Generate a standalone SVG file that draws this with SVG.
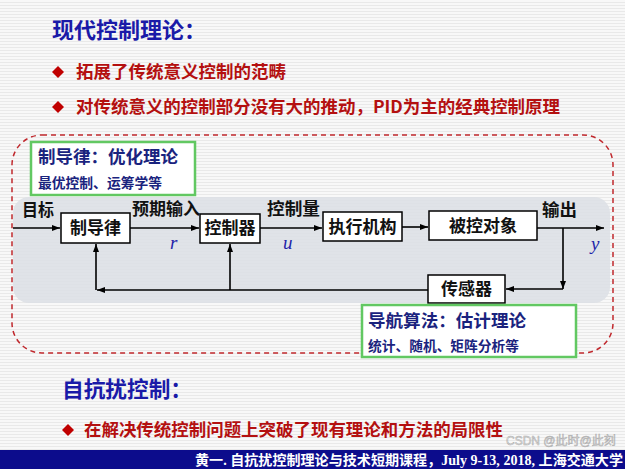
<svg xmlns="http://www.w3.org/2000/svg" width="625" height="469" viewBox="0 0 625 469">
  <defs>
    <pattern id="stripes" x="0" y="0" width="8" height="3" patternUnits="userSpaceOnUse">
      <rect width="8" height="3" fill="#f8f8f8"/>
      <rect y="2" width="8" height="1" fill="#e9e9e9"/>
    </pattern>
    <marker id="arr" markerWidth="8" markerHeight="6" refX="8" refY="3" orient="auto" markerUnits="userSpaceOnUse">
      <path d="M0,0 L8,3 L0,6 z" fill="#000"/>
    </marker>
  </defs>
  <style>
    .cjk { font-family: "Noto Sans CJK SC", "Noto Sans", sans-serif; font-weight: bold; }
    .title { font-size: 22px; fill: #1a1aa8; }
    .bullet { font-size: 17.5px; fill: #b41010; }
    .dia { fill: #c00000; }
    .box { fill: #fff; stroke: #000; stroke-width: 1.5; }
    .btxt { font-size: 17px; fill: #111; text-anchor: middle; }
    .lbl { font-size: 17px; fill: #111; }
    .green { fill: #fff; stroke: #62c862; stroke-width: 2.5; }
    .gtxt1 { font-size: 17.5px; fill: #1a237e; }
    .gtxt2 { font-size: 13.7px; fill: #1a237e; }
    .var { font-family: "Liberation Serif", "DejaVu Serif", serif; font-style: italic; font-size: 19px; fill: #2323a8; }
    .conn path { fill: none; stroke: #000; stroke-width: 1.6; }
  </style>

  <!-- background -->
  <rect width="625" height="469" fill="url(#stripes)"/>

  <!-- headings and bullets -->
  <g id="heading1">
    <text class="cjk title" x="52" y="38" textLength="154" lengthAdjust="spacingAndGlyphs">现代控制理论：</text>
  </g>
  <g id="bullet1">
    <polygon class="dia" points="58,66 64,72 58,78 52,72"/>
    <text class="cjk bullet" x="76" y="78" textLength="210" lengthAdjust="spacingAndGlyphs">拓展了传统意义控制的范畴</text>
  </g>
  <g id="bullet2">
    <polygon class="dia" points="58,101 64,107 58,113 52,107"/>
    <text class="cjk bullet" x="76" y="113" textLength="484" lengthAdjust="spacingAndGlyphs">对传统意义的控制部分没有大的推动，PID为主的经典控制原理</text>
  </g>

  <!-- dashed frame and gray band -->
  <g id="frame">
    <rect x="12" y="135" width="601" height="218" rx="30" fill="none" stroke="#c0282d" stroke-width="1.5" stroke-dasharray="5,4"/>
    <rect x="13" y="197" width="597" height="106" rx="16" fill="#dde0e6" opacity="0.9"/>
  </g>

  <!-- green annotation box 1 -->
  <g id="note-guidance">
    <rect class="green" x="31" y="142" width="164" height="53"/>
    <text class="cjk gtxt1" x="38" y="163" textLength="140" lengthAdjust="spacingAndGlyphs">制导律：优化理论</text>
    <text class="cjk gtxt2" x="38" y="188" textLength="124" lengthAdjust="spacingAndGlyphs">最优控制、运筹学等</text>
  </g>

  <!-- connectors -->
  <g id="connectors" class="conn">
    <path d="M13 228 H60" marker-end="url(#arr)"/>
    <path d="M130 228 H199" marker-end="url(#arr)"/>
    <path d="M260 228 H322" marker-end="url(#arr)"/>
    <path d="M402 227 H428" marker-end="url(#arr)"/>
    <path d="M537 228 H604" marker-end="url(#arr)"/>
    <path d="M563 228 V289" marker-end="url(#arr)"/>
    <path d="M563 289 H506" marker-end="url(#arr)"/>
    <path d="M428 290 H97" marker-end="url(#arr)"/>
    <path d="M96 290 V244" marker-end="url(#arr)"/>
    <path d="M230 290 V244" marker-end="url(#arr)"/>
  </g>

  <!-- connector labels -->
  <g id="labels">
    <text class="cjk lbl" x="22" y="216" font-size="16" textLength="32" lengthAdjust="spacingAndGlyphs">目标</text>
    <text class="cjk lbl" x="132" y="215" textLength="68" lengthAdjust="spacingAndGlyphs">预期输入</text>
    <text class="cjk lbl" x="267" y="215" textLength="53" lengthAdjust="spacingAndGlyphs">控制量</text>
    <text class="cjk lbl" x="542" y="216" textLength="35" lengthAdjust="spacingAndGlyphs">输出</text>
    <text class="var" x="170" y="249">r</text>
    <text class="var" x="283" y="249">u</text>
    <text class="var" x="591" y="250">y</text>
  </g>

  <!-- blocks -->
  <g id="guidance-law">
    <rect class="box" x="61" y="213" width="69" height="30"/>
    <text class="cjk btxt" x="95.5" y="234">制导律</text>
  </g>
  <g id="controller">
    <rect class="box" x="200" y="214" width="60" height="29"/>
    <text class="cjk btxt" x="230" y="234">控制器</text>
  </g>
  <g id="actuator">
    <rect class="box" x="323" y="212" width="79" height="29"/>
    <text class="cjk btxt" x="362.5" y="233">执行机构</text>
  </g>
  <g id="plant">
    <rect class="box" x="429" y="211" width="108" height="29"/>
    <text class="cjk btxt" x="483" y="232">被控对象</text>
  </g>
  <g id="sensor">
    <rect class="box" x="428" y="275" width="77" height="28"/>
    <text class="cjk btxt" x="466.5" y="295">传感器</text>
  </g>

  <!-- green annotation box 2 -->
  <g id="note-navigation">
    <rect class="green" x="362" y="305" width="214" height="52"/>
    <text class="cjk gtxt1" x="368" y="327" textLength="158" lengthAdjust="spacingAndGlyphs">导航算法：估计理论</text>
    <text class="cjk gtxt2" x="368" y="351" textLength="151" lengthAdjust="spacingAndGlyphs">统计、随机、矩阵分析等</text>
  </g>

  <g id="heading2">
    <text class="cjk title" x="62" y="397" textLength="130" lengthAdjust="spacingAndGlyphs">自抗扰控制：</text>
  </g>
  <g id="bullet3">
    <polygon class="dia" points="68,424 74,430 68,436 62,430"/>
    <text class="cjk bullet" x="84" y="436" textLength="419" lengthAdjust="spacingAndGlyphs">在解决传统控制问题上突破了现有理论和方法的局限性</text>
  </g>

  <!-- footer -->
  <g id="footer">
    <rect x="0" y="450" width="625" height="19" fill="#0c0c8c"/>
    <text x="195" y="465" font-family="'Liberation Serif', 'Noto Sans CJK SC', serif" font-weight="bold" font-size="14" fill="#fff" textLength="428" lengthAdjust="spacingAndGlyphs">黄一. 自抗扰控制理论与技术短期课程，July  9-13, 2018, 上海交通大学</text>
  </g>
  <g id="watermark">
    <text x="506" y="445" font-family="'Liberation Sans', 'Noto Sans CJK SC', sans-serif" font-size="12" fill="#d0d0d0" fill-opacity="0.55" stroke="#9a9a9a" stroke-width="0.5" stroke-opacity="0.8">CSDN @此时@此刻</text>
  </g>
</svg>
